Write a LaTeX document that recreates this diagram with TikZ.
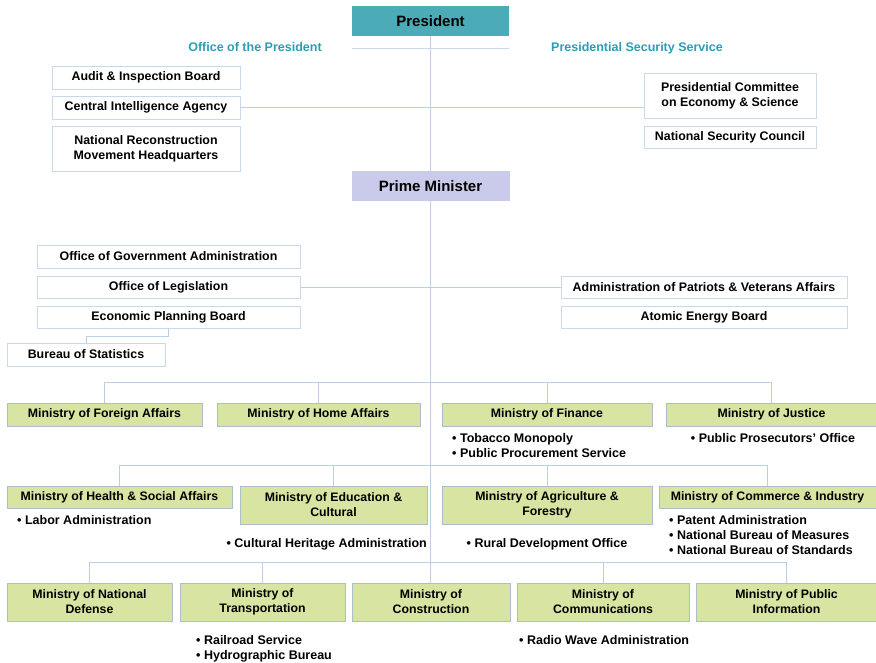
\documentclass[tikz,border=0pt]{standalone}
\usepackage{fontspec}
\setmainfont{Liberation Sans}
\usetikzlibrary{positioning}
\usetikzlibrary{backgrounds}

\definecolor{presfill}{HTML}{4BACB8}
\definecolor{pmfill}{HTML}{CACAEA}
\definecolor{minfill}{HTML}{D8E4A2}
\definecolor{minedge}{HTML}{A9BFCB}
\definecolor{boxedge}{HTML}{C8DAEA}
\definecolor{linkcol}{HTML}{BBD0E2}
\definecolor{headcol}{HTML}{2C9DB4}

\begin{document}
\begin{tikzpicture}[x=1pt, y=-1pt]
        % Define styles for shapes
        \tikzstyle{unit} = [draw=boxedge, line width=0.8pt, fill=white, inner sep=1pt, align=center, font=\fontsize{12.4}{15}\selectfont\bfseries]
        \tikzstyle{ministry} = [draw=minedge, line width=0.8pt, fill=minfill, inner sep=1pt, align=center, font=\fontsize{12.3}{15}\selectfont\bfseries]
        \tikzstyle{head} = [inner sep=0pt, font=\fontsize{15}{17}\selectfont\bfseries]
        \tikzstyle{office} = [inner sep=0pt, text=headcol, font=\fontsize{12.5}{14}\selectfont\bfseries]
        \tikzstyle{sub} = [inner sep=0pt, align=left, anchor=north west, font=\fontsize{12.5}{15}\selectfont\bfseries]
        \tikzstyle{link} = [draw=linkcol, line width=0.8pt]
        \useasboundingbox (0,0) rectangle (876,663);

        % Top of the chart
        \node[head, fill=presfill, minimum width=157pt, minimum height=30pt] (pres) at (430.5, 21) {President};
        \node[office] (opres) at (255, 47) {Office of the President};
        \node[office] (pss) at (637, 48) {Presidential Security Service};

        \node[unit, minimum width=188pt, minimum height=23pt] (audit) at (146, 77.5) {Audit \& Inspection Board};
        \node[unit, minimum width=188pt, minimum height=23pt] (cia) at (146, 107.5) {Central Intelligence Agency};
        \node[unit, minimum width=188pt, minimum height=45pt] (nrmh) at (146, 148.5) {National Reconstruction\\Movement Headquarters};
        \node[unit, minimum width=172pt, minimum height=45pt] (pces) at (730, 95.5) {Presidential Committee\\on Economy \& Science};
        \node[unit, minimum width=172pt, minimum height=22pt] (nsc) at (730, 137) {National Security Council};

        \node[head, fill=pmfill, minimum width=158pt, minimum height=30pt] (pm) at (430.5, 186) {Prime Minister};

        \node[unit, minimum width=263pt, minimum height=23pt] (oga) at (168.5, 256.5) {Office of Government Administration};
        \node[unit, minimum width=263pt, minimum height=22pt] (legis) at (168.5, 287) {Office of Legislation};
        \node[unit, minimum width=263pt, minimum height=22pt] (epb) at (168.5, 317) {Economic Planning Board};
        \node[unit, minimum width=158pt, minimum height=23pt] (stats) at (86, 354.5) {Bureau of Statistics};
        \node[unit, minimum width=286pt, minimum height=22pt] (apva) at (704, 287) {Administration of Patriots \& Veterans Affairs};
        \node[unit, minimum width=286pt, minimum height=22pt] (aeb) at (704, 317) {Atomic Energy Board};

        % Ministries
        \coordinate (bar1) at (430, 382);
        \coordinate (bar2) at (430, 465);
        \coordinate (bar3) at (430, 562);

        \node[ministry, minimum width=195pt, minimum height=23pt] (foreign) at (104.5, 414.5) {Ministry of Foreign Affairs};
        \node[ministry, minimum width=203pt, minimum height=23pt] (home) at (318.5, 414.5) {Ministry of Home Affairs};
        \node[ministry, minimum width=210pt, minimum height=23pt] (finance) at (547, 414.5) {Ministry of Finance};
        \node[ministry, minimum width=211pt, minimum height=23pt] (justice) at (771.5, 414.5) {Ministry of Justice};
        \node[sub] (fin1) at (452, 433) {• Tobacco Monopoly\\• Public Procurement Service};
        \node[sub, anchor=north] (jus1) at (773, 433) {• Public Prosecutors' Office};

        \node[ministry, minimum width=225pt, minimum height=22pt] (health) at (119.5, 497) {Ministry of Health \& Social Affairs};
        \node[ministry, minimum width=187pt, minimum height=38pt] (educ) at (333.5, 505) {Ministry of Education \&\\Cultural};
        \node[ministry, minimum width=210pt, minimum height=38pt] (agri) at (547, 505) {Ministry of Agriculture \&\\Forestry};
        \node[ministry, minimum width=217pt, minimum height=22pt] (comm) at (767.5, 497) {Ministry of Commerce \& Industry};
        \node[sub] (hea1) at (17, 515) {• Labor Administration};
        \node[sub, anchor=north east] (edu1) at (427, 538) {• Cultural Heritage Administration};
        \node[sub, anchor=north] (agr1) at (547, 538) {• Rural Development Office};
        \node[sub] (com1) at (669, 515) {• Patent Administration\\• National Bureau of Measures\\• National Bureau of Standards};

        \node[ministry, minimum width=165pt, minimum height=38pt] (defense) at (89.5, 602) {Ministry of National\\Defense};
        \node[ministry, minimum width=165pt, minimum height=38pt] (transp) at (262.5, 602) {Ministry of\\Transportation};
        \node[ministry, minimum width=158pt, minimum height=38pt] (constr) at (431, 602) {Ministry of\\Construction};
        \node[ministry, minimum width=172pt, minimum height=38pt] (commu) at (603, 602) {Ministry of\\Communications};
        \node[ministry, minimum width=181pt, minimum height=38pt] (pubinfo) at (786.5, 602) {Ministry of Public\\Information};
        \node[sub] (tra1) at (196, 635) {• Railroad Service\\• Hydrographic Bureau};
        \node[sub] (cmu1) at (519, 635) {• Radio Wave Administration};

        % Draw connectors
        \begin{scope}[on background layer]
        \draw[link] (pres.south) -- (pres.south |- constr.north);
        \draw[link, draw=boxedge] ([yshift=-12pt]pres.south west) -- ([yshift=-12pt]pres.south east);
        \draw[link] (cia.east) -- (cia.east -| pces.west);
        \draw[link] (legis.east) -- (apva.west);
        \draw[link] (epb.south) -- ++(0,8) -| (stats.north);

        \draw[link] (foreign.north) -- (foreign.north |- bar1) -- (justice.north |- bar1) -- (justice.north);
        \draw[link] (home.north) -- (home.north |- bar1);
        \draw[link] (finance.north) -- (finance.north |- bar1);

        \draw[link] (health.north) -- (health.north |- bar2) -- (comm.north |- bar2) -- (comm.north);
        \draw[link] (educ.north) -- (educ.north |- bar2);
        \draw[link] (agri.north) -- (agri.north |- bar2);

        \draw[link] (defense.north) -- (defense.north |- bar3) -- (pubinfo.north |- bar3) -- (pubinfo.north);
        \draw[link] (transp.north) -- (transp.north |- bar3);
        \draw[link] (commu.north) -- (commu.north |- bar3);
        \end{scope}
    \end{tikzpicture}
\end{document}
